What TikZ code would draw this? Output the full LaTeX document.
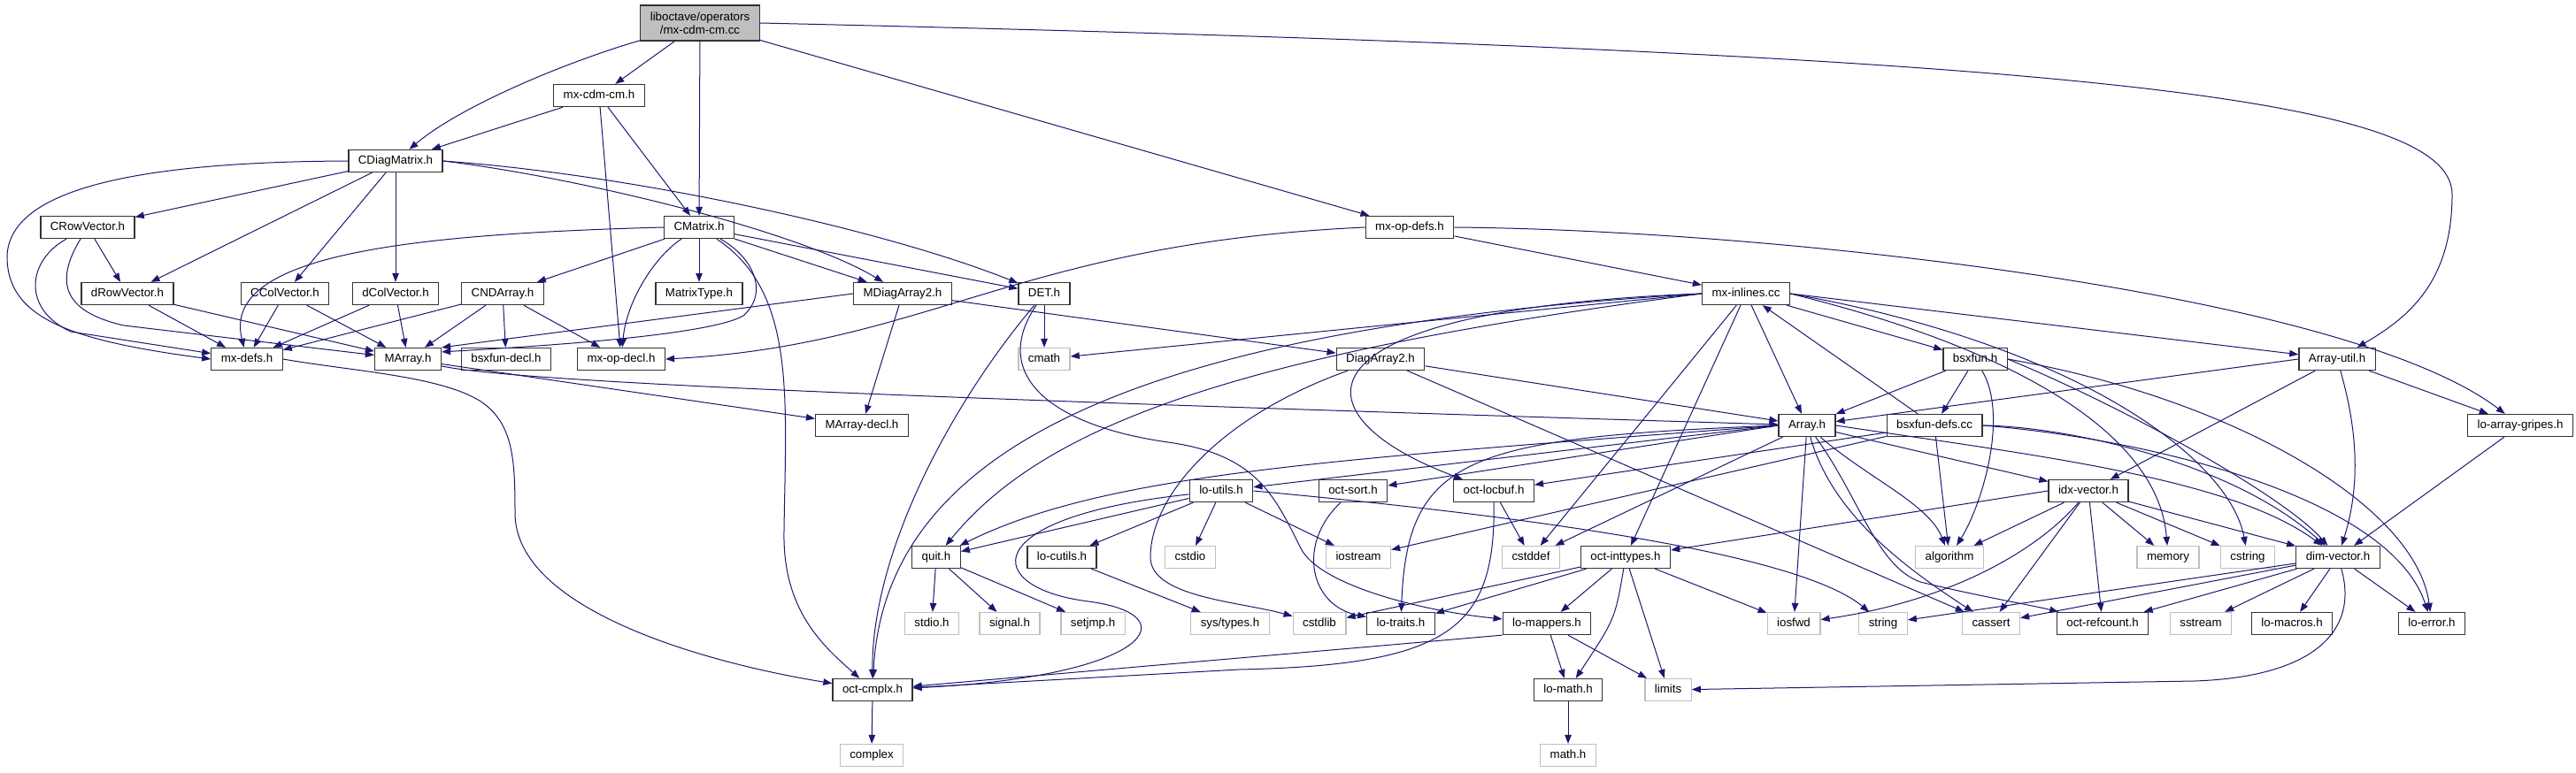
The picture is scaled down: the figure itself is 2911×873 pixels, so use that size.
\documentclass[tikz,border=0pt]{standalone}
\usepackage{fontspec}
\setmainfont{Liberation Sans}
\usetikzlibrary{arrows.meta}
\definecolor{edgeblue}{HTML}{191970}
\tikzset{
	filebox/.style={draw=black!80, line width=1.3pt, fill=white, inner xsep=11pt, inner ysep=0pt, font=\fontsize{13.3}{15}\selectfont},
	hdr/.style={filebox, minimum height=25pt, text height=9.6pt, text depth=2.8pt},
	syshdr/.style={hdr, draw=black!25},
	rootfile/.style={filebox, fill=black!25, minimum height=40pt, align=center},
	dep/.style={draw=edgeblue, line width=1pt, -{Triangle[length=10pt,width=7.5pt]}}
}

\begin{document}
\begin{tikzpicture}[x=1pt,y=-1pt]
			%%%%% START %%%%%
			
			\path[use as bounding box, fill=white] (0,0) rectangle (2911,873);
			
			\node[rootfile] (root) at (791,26) {liboctave/operators\\/mx-cdm-cm.cc};
			\node[hdr] (mxcdmh) at (677,108) {mx-cdm-cm.h};
			\node[hdr] (cdiag) at (447,182) {CDiagMatrix.h};
			\node[hdr] (cmatrix) at (790,257) {CMatrix.h};
			\node[hdr] (mxopdefs) at (1593,257) {mx-op-defs.h};
			\node[hdr] (crowvec) at (99,257) {CRowVector.h};
			
			\node[hdr] (drowvec) at (144,332) {dRowVector.h};
			\node[hdr] (ccolvec) at (322,332) {CColVector.h};
			\node[hdr] (dcolvec) at (447,332) {dColVector.h};
			\node[hdr] (cndarray) at (568,332) {CNDArray.h};
			\node[hdr] (mattype) at (790,332) {MatrixType.h};
			\node[hdr] (mdiag) at (1020,332) {MDiagArray2.h};
			\node[hdr] (det) at (1180,332) {DET.h};
			\node[hdr] (mxinl) at (1973,332) {mx-inlines.cc};
			
			\node[hdr] (mxdefs) at (279,406) {mx-defs.h};
			\node[hdr] (marray) at (461,406) {MArray.h};
			\node[hdr] (bsxdecl) at (572,406) {bsxfun-decl.h};
			\node[hdr] (mxopdecl) at (702,406) {mx-op-decl.h};
			\node[syshdr] (cmath) at (1180,406) {cmath};
			\node[hdr] (diag2) at (1560,406) {DiagArray2.h};
			\node[hdr] (bsxfun) at (2232,406) {bsxfun.h};
			\node[hdr] (autil) at (2641,406) {Array-util.h};
			
			\node[hdr] (marraydecl) at (974,481) {MArray-decl.h};
			\node[hdr] (array) at (2042,481) {Array.h};
			\node[hdr] (bsxdefs) at (2186,481) {bsxfun-defs.cc};
			\node[hdr] (gripes) at (2848,481) {lo-array-gripes.h};
			
			\node[hdr] (loutils) at (1380,555) {lo-utils.h};
			\node[hdr] (octsort) at (1529,555) {oct-sort.h};
			\node[hdr] (locbuf) at (1688,555) {oct-locbuf.h};
			\node[hdr] (idxvec) at (2360,555) {idx-vector.h};
			
			\node[hdr] (quit) at (1058,630) {quit.h};
			\node[hdr] (locutils) at (1200,630) {lo-cutils.h};
			\node[syshdr] (cstdio) at (1345,630) {cstdio};
			\node[syshdr] (iostream) at (1535,630) {iostream};
			\node[syshdr] (cstddef) at (1730,630) {cstddef};
			\node[hdr] (inttypes) at (1837,630) {oct-inttypes.h};
			\node[syshdr] (algorithm) at (2203,630) {algorithm};
			\node[syshdr] (memory) at (2450,630) {memory};
			\node[syshdr] (cstring) at (2540,630) {cstring};
			\node[hdr] (dimvec) at (2642,630) {dim-vector.h};
			
			\node[syshdr] (stdioh) at (1053,705) {stdio.h};
			\node[syshdr] (signalh) at (1141,705) {signal.h};
			\node[syshdr] (setjmph) at (1235,705) {setjmp.h};
			\node[syshdr] (systypes) at (1390,705) {sys/types.h};
			\node[syshdr] (cstdlib) at (1491,705) {cstdlib};
			\node[hdr] (lotraits) at (1583,705) {lo-traits.h};
			\node[hdr] (lomappers) at (1748,705) {lo-mappers.h};
			\node[syshdr] (iosfwd) at (2027,705) {iosfwd};
			\node[syshdr] (stringh) at (2128,705) {string};
			\node[syshdr] (cassert) at (2250,705) {cassert};
			\node[hdr] (refcount) at (2376,705) {oct-refcount.h};
			\node[syshdr] (sstream) at (2487,705) {sstream};
			\node[hdr] (lomacros) at (2590,705) {lo-macros.h};
			\node[hdr] (loerror) at (2748,705) {lo-error.h};
			
			\node[hdr] (cmplx) at (986,780) {oct-cmplx.h};
			\node[hdr] (lomath) at (1772,780) {lo-math.h};
			\node[syshdr] (limits) at (1885,780) {limits};
			\node[syshdr] (complex) at (985,854) {complex};
			\node[syshdr] (mathh) at (1772,854) {math.h};
			
			\draw[dep] (root) .. controls (640,70) and (520,120) .. (cdiag);
			\draw[dep] (root) -- (mxcdmh);
			\draw[dep] (root) -- (cmatrix);
			\draw[dep] (root) -- (mxopdefs);
			\draw[dep] (root.east) .. controls (2350,60) and (2771,110) .. (2771,220) .. controls (2771,320) and (2720,360) .. (autil);
			
			\draw[dep] (mxcdmh) -- (cdiag);
			\draw[dep] (mxcdmh) -- (cmatrix);
			\draw[dep] (mxcdmh) -- (mxopdecl);
			
			\draw[dep] (cdiag) -- (crowvec);
			\draw[dep] (cdiag) -- (drowvec);
			\draw[dep] (cdiag) -- (ccolvec);
			\draw[dep] (cdiag) -- (dcolvec);
			\draw[dep] (cdiag.east) .. controls (650,200) and (900,260) .. (mdiag);
			\draw[dep] (cdiag.east) .. controls (720,198) and (1000,260) .. (det);
			\draw[dep] (cdiag.west) .. controls (150,183) and (10,215) .. (8,290) .. controls (8,360) and (80,385) .. (mxdefs.west);
			
			\draw[dep] (cmatrix) -- (cndarray);
			\draw[dep] (cmatrix) -- (mattype);
			\draw[dep] (cmatrix) -- (mdiag);
			\draw[dep] (cmatrix) -- (det);
			\draw[dep] (cmatrix) .. controls (740,290) and (708,340) .. (mxopdecl);
			\draw[dep] (cmatrix.west) .. controls (450,265) and (250,290) .. (mxdefs);
			\draw[dep] (cmatrix) .. controls (850,290) and (870,330) .. (840,357) .. controls (800,380) and (600,392) .. (marray.12);
			\draw[dep] (cmatrix) .. controls (900,330) and (888,450) .. (886,600) .. controls (884,690) and (930,730) .. (cmplx);
			
			\draw[dep] (mxopdefs.west) .. controls (1150,275) and (1050,390) .. (mxopdecl.east);
			\draw[dep] (mxopdefs) -- (mxinl);
			\draw[dep] (mxopdefs.east) .. controls (2000,260) and (2650,330) .. (gripes);
			
			\draw[dep] (crowvec) -- (drowvec);
			\draw[dep] (crowvec) .. controls (30,295) and (25,350) .. (80,375) -- (mxdefs);
			\draw[dep] (crowvec) .. controls (62,318) and (70,352) .. (140,368) -- (marray);
			\draw[dep] (drowvec) -- (mxdefs);
			\draw[dep] (drowvec) -- (marray);
			\draw[dep] (ccolvec) -- (mxdefs);
			\draw[dep] (ccolvec) -- (marray);
			\draw[dep] (dcolvec) -- (mxdefs);
			\draw[dep] (dcolvec) -- (marray);
			\draw[dep] (cndarray) -- (mxdefs);
			\draw[dep] (cndarray) -- (marray);
			\draw[dep] (cndarray) -- (bsxdecl);
			\draw[dep] (cndarray) -- (mxopdecl);
			
			\draw[dep] (mdiag.west) -- (marray.north east);
			\draw[dep] (mdiag) -- (marraydecl);
			\draw[dep] (mdiag) -- (diag2);
			
			\draw[dep] (det) -- (cmath);
			\draw[dep] (det) .. controls (1080,450) and (985,620) .. (cmplx);
			\draw[dep] (det) .. controls (1120,420) and (1180,480) .. (1320,500) .. controls (1420,514) and (1440,560) .. (1470,620) .. controls (1490,660) and (1600,690) .. (lomappers);
			
			\draw[dep] (mxinl.west) -- (cmath);
			\draw[dep] (mxinl.west) .. controls (1400,400) and (1180,480) .. (quit);
			\draw[dep] (mxinl.west) .. controls (1300,370) and (1000,500) .. (cmplx);
			\draw[dep] (mxinl.west) .. controls (1450,350) and (1460,470) .. (locbuf);
			\draw[dep] (mxinl) -- (cstddef);
			\draw[dep] (mxinl) -- (inttypes);
			\draw[dep] (mxinl) -- (array);
			\draw[dep] (mxinl) -- (bsxfun);
			\draw[dep] (mxinl.east) -- (autil);
			\draw[dep] (mxinl.east) .. controls (2300,400) and (2440,500) .. (memory);
			\draw[dep] (mxinl.east) .. controls (2350,390) and (2520,520) .. (cstring);
			
			\draw[dep] (mxdefs.east) .. controls (400,420) and (500,425) .. (545,455) .. controls (580,480) and (582,520) .. (582,580) .. controls (582,690) and (800,750) .. (cmplx);
			\draw[dep] (marray) .. controls (600,435) and (1200,455) .. (array);
			\draw[dep] (marray) -- (marraydecl);
			
			\draw[dep] (diag2) -- (array);
			\draw[dep] (diag2) -- (cassert);
			\draw[dep] (diag2) .. controls (1380,470) and (1300,560) .. (1300,630) .. controls (1300,675) and (1400,680) .. (cstdlib);
			
			\draw[dep] (bsxdefs) -- (mxinl);
			\draw[dep] (bsxdefs) -- (iostream);
			\draw[dep] (bsxdefs) -- (locbuf);
			\draw[dep] (bsxdefs) -- (algorithm);
			\draw[dep] (bsxdefs.east) .. controls (2330,482) and (2520,520) .. (dimvec);
			\draw[dep] (bsxdefs.east) .. controls (2420,495) and (2700,560) .. (loerror);
			
			\draw[dep] (bsxfun) -- (array);
			\draw[dep] (bsxfun) -- (bsxdefs);
			\draw[dep] (bsxfun) .. controls (2270,470) and (2240,570) .. (algorithm);
			\draw[dep] (bsxfun.east) .. controls (2400,460) and (2580,560) .. (dimvec);
			\draw[dep] (bsxfun.east) .. controls (2520,450) and (2730,570) .. (loerror);
			
			\draw[dep] (autil.west) -- (array);
			\draw[dep] (autil) -- (idxvec);
			\draw[dep] (autil) .. controls (2668,500) and (2664,560) .. (dimvec);
			\draw[dep] (autil) -- (gripes);
			\draw[dep] (gripes) -- (dimvec);
			
			\draw[dep] (array.west) -- (loutils);
			\draw[dep] (array.west) -- (octsort);
			\draw[dep] (array.west) .. controls (1500,520) and (1250,535) .. (quit);
			\draw[dep] (array.west) .. controls (1660,495) and (1590,515) .. (lotraits);
			\draw[dep] (array) -- (cstddef);
			\draw[dep] (array) -- (iosfwd);
			\draw[dep] (array) .. controls (2110,540) and (2180,570) .. (algorithm);
			\draw[dep] (array) .. controls (2070,580) and (2150,640) .. (cassert);
			\draw[dep] (array) .. controls (2100,560) and (2120,640) .. (2170,658) .. controls (2240,675) and (2300,685) .. (refcount);
			\draw[dep] (array) -- (idxvec);
			\draw[dep] (array.east) .. controls (2300,515) and (2520,540) .. (dimvec);
			
			\draw[dep] (idxvec.west) -- (inttypes);
			\draw[dep] (idxvec) -- (algorithm);
			\draw[dep] (idxvec) -- (cassert);
			\draw[dep] (idxvec) .. controls (2300,625) and (2200,680) .. (iosfwd);
			\draw[dep] (idxvec) -- (refcount);
			\draw[dep] (idxvec) -- (memory);
			\draw[dep] (idxvec) -- (cstring);
			\draw[dep] (idxvec) -- (dimvec);
			
			\draw[dep] (dimvec) -- (stringh);
			\draw[dep] (dimvec) -- (cassert);
			\draw[dep] (dimvec) -- (refcount);
			\draw[dep] (dimvec) -- (sstream);
			\draw[dep] (dimvec) -- (lomacros);
			\draw[dep] (dimvec) -- (loerror);
			\draw[dep] (dimvec) .. controls (2665,710) and (2620,765) .. (2480,770) -- (limits);
			
			\draw[dep] (inttypes) -- (cstdlib);
			\draw[dep] (inttypes) -- (lotraits);
			\draw[dep] (inttypes) -- (lomappers);
			\draw[dep] (inttypes) .. controls (1825,700) .. (lomath);
			\draw[dep] (inttypes) -- (limits);
			\draw[dep] (inttypes) -- (iosfwd);
			
			\draw[dep] (lomappers) -- (lomath);
			\draw[dep] (lomappers) -- (limits);
			\draw[dep] (lomappers.south west) -- (cmplx);
			\draw[dep] (lomath) -- (mathh);
			
			\draw[dep] (locbuf) -- (cstddef);
			\draw[dep] (locbuf) .. controls (1690,710) and (1640,752) .. (1400,757) -- (cmplx);
			\draw[dep] (octsort) .. controls (1465,615) and (1480,685) .. (lotraits);
			
			\draw[dep] (loutils) -- (cstdio);
			\draw[dep] (loutils) -- (locutils);
			\draw[dep] (loutils) -- (quit);
			\draw[dep] (loutils) -- (iostream);
			\draw[dep] (loutils.east) .. controls (1850,595) and (2050,640) .. (stringh);
			\draw[dep] (loutils) .. controls (1100,585) and (1110,665) .. (1230,680) .. controls (1345,695) and (1300,765) .. (cmplx);
			
			\draw[dep] (quit) -- (stdioh);
			\draw[dep] (quit) -- (signalh);
			\draw[dep] (quit) -- (setjmph);
			\draw[dep] (locutils) -- (systypes);
			\draw[dep] (cmplx) -- (complex);
			
			%%%%% END %%%%%
\end{tikzpicture}
\end{document}
